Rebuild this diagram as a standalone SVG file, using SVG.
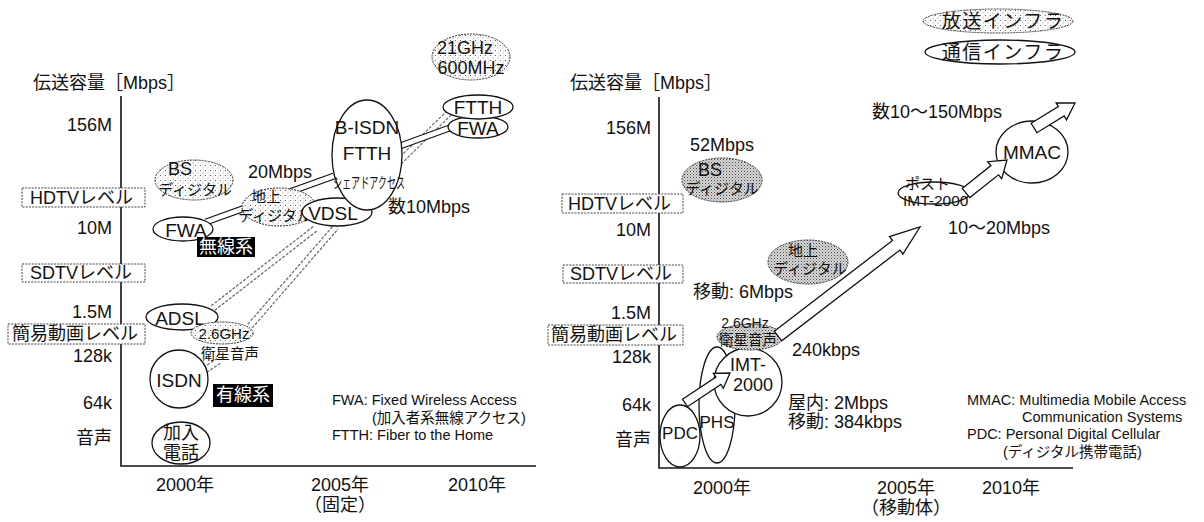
<svg xmlns="http://www.w3.org/2000/svg" width="1204" height="522" viewBox="0 0 1204 522">
<defs>
<pattern id="st" width="5" height="5" patternUnits="userSpaceOnUse"><rect width="5" height="5" fill="#fff"/><rect x="0" y="0" width="1" height="1" fill="#666"/><rect x="2.5" y="2.5" width="1" height="1" fill="#999"/><rect x="3.5" y="0.5" width="0.8" height="0.8" fill="#aaa"/></pattern>
<pattern id="std" width="3" height="3" patternUnits="userSpaceOnUse"><rect width="3" height="3" fill="#d8d8d8"/><rect x="0" y="0" width="1" height="1" fill="#444"/><rect x="1.5" y="1.5" width="1" height="1" fill="#777"/></pattern>
<style>
.t{font-family:"Liberation Sans","Noto Sans CJK JP",sans-serif;fill:#111;dominant-baseline:central}
.m{text-anchor:middle}
.e{text-anchor:end}
.f18{font-size:18px}
.f19{font-size:19px}
.f15{font-size:15px}
.f14{font-size:14.5px}
.ax{stroke:#111;stroke-width:1.6;fill:none}
.n{fill:#fff;stroke:#111;stroke-width:1.3}
.s{fill:url(#st);stroke:#333;stroke-width:1;stroke-dasharray:2 1}
.sd{fill:url(#std);stroke:#333;stroke-width:1;stroke-dasharray:2 1}
.lv{fill:#fff;stroke:#444;stroke-width:1;stroke-dasharray:2 1.2}
.bo{stroke:#111;stroke-width:7;fill:none}
.bi{stroke:#fff;stroke-width:4.6;fill:none}
.go{stroke:#666;stroke-width:7;fill:none;stroke-dasharray:3 1.5}
.ar{fill:#fff;stroke:#111;stroke-width:1.3;stroke-linejoin:miter}
.blk{fill:#000}
.w{fill:#fff}
</style>
</defs>
<rect width="1204" height="522" fill="#fff"/>

<!-- Left chart axes and scale -->
<g id="axes-fixed">
<path class="ax" d="M121,96 V466 H536"/>
<text class="t f18" x="33" y="83">伝送容量［Mbps］</text>
<text class="t f18 e" x="112" y="125">156M</text>
<text class="t f18 e" x="112" y="228">10M</text>
<text class="t f18 e" x="112" y="312">1.5M</text>
<text class="t f18 e" x="112" y="356">128k</text>
<text class="t f18 e" x="112" y="403">64k</text>
<text class="t f18 e" x="112" y="438">音声</text>
<rect class="lv" x="22" y="188" width="123" height="19"/>
<text class="t f18" x="30" y="197.5">HDTVレベル</text>
<rect class="lv" x="22" y="264" width="123" height="18"/>
<text class="t f18" x="30" y="273">SDTVレベル</text>
<rect class="lv" x="8" y="324" width="137" height="20"/>
<text class="t f18" x="12" y="334">簡易動画レベル</text>
<text class="t f18 m" x="185" y="485">2000年</text>
<text class="t f18 m" x="340" y="485">2005年</text>
<text class="t f18 m" x="340" y="505">（固定）</text>
<text class="t f18 m" x="477" y="485">2010年</text>
</g>

<!-- Left chart connectors (bands) -->
<g id="connectors-fixed">
<path class="go" d="M213,308 L316,228"/><path class="bi" d="M213,308 L316,228"/>
<path class="go" d="M250,326 L336,227"/><path class="bi" d="M250,326 L336,227"/>
<path class="go" d="M205,370 L220,360"/><path class="bi" d="M205,370 L220,360"/>
<path class="go" d="M399,162 L450,112"/><path class="bi" d="M399,162 L450,112"/>
<path class="bo" d="M206,222 L334,176"/><path class="bi" d="M206,222 L334,176"/>
<path class="bo" d="M400,146 L455,126"/><path class="bi" d="M400,146 L455,126"/>
</g>

<!-- Left chart nodes -->
<g id="bs-fixed"><ellipse class="s" cx="194" cy="180" rx="39" ry="20"/><text class="t f18 m" x="180" y="169">BS</text><text class="t f15 m" x="195" y="189">ディジタル</text></g>
<g id="chijo-fixed"><ellipse class="s" cx="279" cy="207" rx="37" ry="19"/><text class="t f15 m" x="266" y="196">地上</text><text class="t f15 m" x="275" y="215">ディジタル</text></g>
<g id="vdsl"><ellipse class="n" cx="337" cy="212" rx="35" ry="14"/><text class="t f19 m" x="333" y="213">VDSL</text></g>
<g id="bisdn"><ellipse class="n" cx="367" cy="155" rx="35" ry="55"/><text class="t f19 m" x="367" y="127">B-ISDN</text><text class="t f19 m" x="367" y="153">FTTH</text><text class="t f15 m" x="369" y="182" textLength="72" lengthAdjust="spacingAndGlyphs">シェアドアクセス</text></g>
<g id="ghz21"><ellipse class="s" cx="471" cy="57" rx="39" ry="23"/><text class="t f18 m" x="465" y="48">21GHz</text><text class="t f18 m" x="471" y="68">600MHz</text></g>
<g id="fwa-future"><ellipse class="n" cx="478" cy="127" rx="30" ry="11"/><text class="t f19 m" x="478" y="128">FWA</text></g>
<g id="ftth-future"><ellipse class="n" cx="478" cy="107" rx="35" ry="12"/><text class="t f19 m" x="478" y="107">FTTH</text></g>
<g id="fwa"><ellipse class="n" cx="183" cy="229" rx="30" ry="12"/><text class="t f19 m" x="186" y="230">FWA</text></g>
<g id="musen"><rect class="blk" x="197" y="237" width="58" height="20"/><text class="t f18 m w" x="226" y="247">無線系</text></g>
<g id="adsl"><ellipse class="n" cx="182" cy="317" rx="36" ry="13"/><text class="t f19 m" x="180" y="318">ADSL</text></g>
<g id="ghz26-fixed"><ellipse class="s" cx="222" cy="333" rx="31" ry="11"/><text class="t f15 m" x="224" y="333">2.6GHz</text><text class="t f14 m" x="230" y="354">衛星音声</text></g>
<g id="isdn"><circle class="n" cx="179" cy="379" r="29"/><text class="t f19 m" x="179" y="380">ISDN</text></g>
<g id="yusen"><rect class="blk" x="213" y="384" width="60" height="23"/><text class="t f18 m w" x="243" y="395">有線系</text></g>
<g id="kanyu"><ellipse class="n" cx="181" cy="443" rx="29" ry="21"/><text class="t f18 m" x="181" y="433">加入</text><text class="t f18 m" x="181" y="453">電話</text></g>
<g id="labels-fixed">
<text class="t f18" x="248" y="172">20Mbps</text>
<text class="t f18" x="388" y="207">数10Mbps</text>
<text class="t f14" x="332" y="400">FWA: Fixed Wireless Access</text>
<text class="t f14" x="372" y="418">(加入者系無線アクセス)</text>
<text class="t f14" x="332" y="435">FTTH: Fiber to the Home</text>
</g>

<!-- Right chart axes and scale -->
<g id="axes-mobile">
<path class="ax" d="M659,97 V468 H1073"/>
<text class="t f18" x="570" y="83">伝送容量［Mbps］</text>
<text class="t f18 e" x="651" y="128">156M</text>
<text class="t f18 e" x="651" y="230">10M</text>
<text class="t f18 e" x="651" y="313">1.5M</text>
<text class="t f18 e" x="651" y="357">128k</text>
<text class="t f18 e" x="651" y="405">64k</text>
<text class="t f18 e" x="651" y="440">音声</text>
<rect class="lv" x="562" y="194" width="121" height="19"/>
<text class="t f18" x="568" y="203.5">HDTVレベル</text>
<rect class="lv" x="563" y="265" width="120" height="18"/>
<text class="t f18" x="570" y="274">SDTVレベル</text>
<rect class="lv" x="548" y="325" width="135" height="20"/>
<text class="t f18" x="551" y="335">簡易動画レベル</text>
<text class="t f18 m" x="722" y="488">2000年</text>
<text class="t f18 m" x="906" y="488">2005年</text>
<text class="t f18 m" x="906" y="508">（移動体）</text>
<text class="t f18 m" x="1011" y="488">2010年</text>
</g>

<!-- Right chart nodes -->
<g id="bs-mobile"><ellipse class="sd" cx="722" cy="180" rx="40" ry="22"/><text class="t f18 m" x="710" y="170">BS</text><text class="t f15 m" x="722" y="188">ディジタル</text></g>
<g id="chijo-mobile"><ellipse class="sd" cx="808" cy="262" rx="40" ry="22"/><text class="t f15 m" x="803" y="250">地上</text><text class="t f15 m" x="810" y="268">ディジタル</text></g>
<g id="phs"><ellipse class="n" cx="717" cy="405" rx="18" ry="58"/><text class="t m" style="font-size:17px" x="717" y="422">PHS</text></g>
<g id="pdc"><ellipse class="n" cx="680" cy="436" rx="20" ry="31"/><text class="t m" style="font-size:17px" x="680" y="433">PDC</text></g>
<g id="imt2000"><circle class="n" cx="748" cy="382" r="34"/><text class="t f18 m" x="748" y="365">IMT-</text><text class="t f18 m" x="753" y="385">2000</text></g>
<g id="ghz26-mobile"><ellipse class="sd" cx="750" cy="337" rx="33" ry="13"/><text class="t m" style="font-size:14px" x="745" y="323">2.6GHz</text><text class="t f14 m" x="748" y="340">衛星音声</text></g>
<g id="post-imt"><ellipse class="n" cx="934" cy="193" rx="36" ry="11"/><text class="t f15" x="905" y="183">ポスト</text><text class="t" style="font-size:15.5px" x="903" y="200">IMT-2000</text></g>
<g id="mmac"><ellipse class="n" cx="1032" cy="152" rx="36" ry="31"/><text class="t f19 m" x="1032" y="152">MMAC</text></g>
<g id="legend">
<ellipse class="s" cx="998" cy="21" rx="75" ry="12"/><text class="t f19 m" x="1003" y="21" letter-spacing="1.5">放送インフラ</text>
<ellipse class="n" cx="1000" cy="52" rx="75" ry="12"/><text class="t f19 m" x="1003" y="52" letter-spacing="1.5">通信インフラ</text>
</g>
<g id="labels-mobile">
<text class="t f18" x="690" y="145">52Mbps</text>
<text class="t f18" x="693" y="292">移動: 6Mbps</text>
<text class="t f18" x="792" y="350">240kbps</text>
<text class="t f18" x="788" y="403">屋内: 2Mbps</text>
<text class="t f18" x="788" y="422">移動: 384kbps</text>
<text class="t f18" x="948" y="228">10〜20Mbps</text>
<text class="t f18" x="872" y="112">数10〜150Mbps</text>
<text class="t f14" x="967" y="400">MMAC: Multimedia Mobile Access</text>
<text class="t f14" x="1022" y="417">Communication Systems</text>
<text class="t f14" x="967" y="434">PDC: Personal Digital Cellular</text>
<text class="t f14" x="1003" y="452">(ディジタル携帯電話)</text>
</g>

<!-- Right chart connectors (hollow arrows) -->
<g id="connectors-mobile">
<polygon class="ar" points="682.5,399.3 715.9,377 713.4,373.3 730,373 723.3,388.3 720.9,384.5 687.5,406.7"/>
<polygon class="ar" points="774.3,331.2 892.5,240.5 889.5,236.6 920,227 902.9,254 899.9,250.1 781.7,340.8"/>
<polygon class="ar" points="962.2,188.4 990.9,165.6 987.7,161.7 1007,160 1001.7,178.7 998.5,174.8 969.8,197.6"/>
<polygon class="ar" points="1031.1,123.3 1058.4,106.6 1056.1,102.8 1075,103 1066.5,119.8 1064.2,116 1036.9,132.7"/>
</g>
</svg>
